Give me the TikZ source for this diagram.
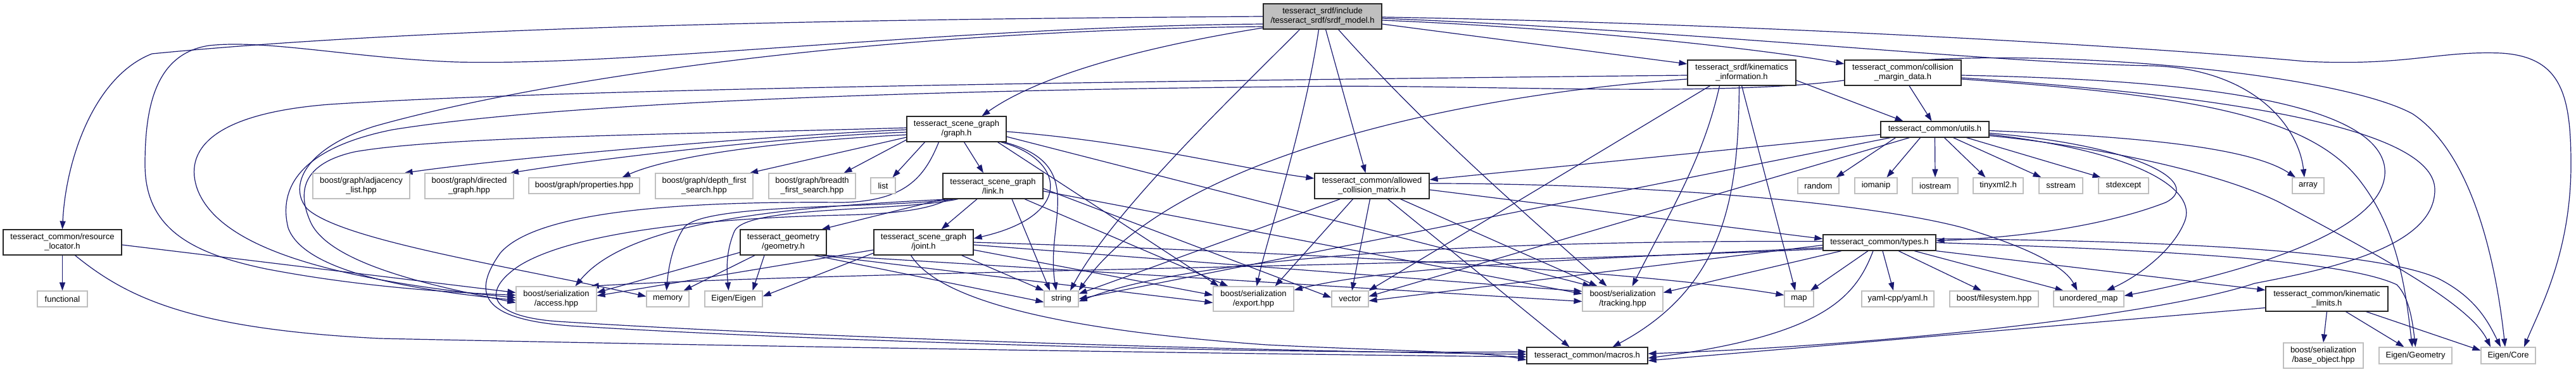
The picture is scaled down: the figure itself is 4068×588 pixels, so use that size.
\documentclass[tikz,border=0pt]{standalone}
\usepackage{fontspec}
\setmainfont{Liberation Sans}
\usetikzlibrary{arrows.meta}
\definecolor{mblue}{HTML}{191970}
\definecolor{lgray}{HTML}{BFBFBF}
\pgfdeclarelayer{bg}
\pgfdeclarelayer{edges}
\pgfsetlayers{bg,edges,main}
\begin{document}
\begin{tikzpicture}[x=1pt,y=-1pt,
  box/.style={rectangle, inner sep=0pt, align=center, font=\fontsize{13pt}{15pt}\selectfont, fill=white, line width=1.2pt},
  int/.style={box, draw=black!85},
  ext/.style={box, draw=lgray},
  rootn/.style={box, draw=black!85, fill=lgray},
  edg/.style={draw=mblue, line width=1.2pt, -{Triangle[length=13pt,width=9pt]}}]
\useasboundingbox (0,0) rectangle (4068,588);
\begin{pgfonlayer}{bg}
\fill[white] (0,0) rectangle (4068,588);
\end{pgfonlayer}
% ---------- nodes ----------
\node[rootn, minimum width=187pt, minimum height=40pt] (R) at (2088.5,26) {tesseract\_srdf/include\\/tesseract\_srdf/srdf\_model.h};
\node[int, minimum width=171pt, minimum height=40pt] (kin) at (2750.5,115) {tesseract\_srdf/kinematics\\\_information.h};
\node[int, minimum width=184pt, minimum height=40pt] (cmd) at (3005,115) {tesseract\_common/collision\\\_margin\_data.h};
\node[int, minimum width=171pt, minimum height=25pt] (utils) at (3055.5,204.5) {tesseract\_common/utils.h};
\node[int, minimum width=157pt, minimum height=40pt] (graph) at (1510.5,204) {tesseract\_scene\_graph\\/graph.h};
\node[ext, minimum width=153pt, minimum height=40pt] (adj) at (570.5,294) {boost/graph/adjacency\\\_list.hpp};
\node[ext, minimum width=140pt, minimum height=40pt] (dir) at (741,294) {boost/graph/directed\\\_graph.hpp};
\node[ext, minimum width=175pt, minimum height=25pt] (prop) at (922.5,293.5) {boost/graph/properties.hpp};
\node[ext, minimum width=154pt, minimum height=40pt] (dfs) at (1112,294) {boost/graph/depth\_first\\\_search.hpp};
\node[ext, minimum width=137pt, minimum height=40pt] (bfs) at (1282.5,294) {boost/graph/breadth\\\_first\_search.hpp};
\node[ext, minimum width=39pt, minimum height=25pt] (list) at (1394.5,293.5) {list};
\node[int, minimum width=158pt, minimum height=40pt] (link) at (1568,294) {tesseract\_scene\_graph\\/link.h};
\node[int, minimum width=181pt, minimum height=40pt] (acm) at (2166.5,294) {tesseract\_common/allowed\\\_collision\_matrix.h};
\node[ext, minimum width=65pt, minimum height=25pt] (random) at (2871.5,293.5) {random};
\node[ext, minimum width=67pt, minimum height=25pt] (iomanip) at (2962.5,293.5) {iomanip};
\node[ext, minimum width=72pt, minimum height=25pt] (iostream) at (3056,293.5) {iostream};
\node[ext, minimum width=79pt, minimum height=25pt] (tinyxml) at (3155.5,293.5) {tinyxml2.h};
\node[ext, minimum width=69pt, minimum height=25pt] (sstream) at (3254.5,293.5) {sstream};
\node[ext, minimum width=79pt, minimum height=25pt] (stdexcept) at (3353.5,293.5) {stdexcept};
\node[ext, minimum width=50pt, minimum height=25pt] (array) at (3645,293.5) {array};
\node[int, minimum width=187pt, minimum height=40pt] (rl) at (98.5,383) {tesseract\_common/resource\\\_locator.h};
\node[ext, minimum width=79pt, minimum height=25pt] (functional) at (98.5,472.5) {functional};
\node[int, minimum width=136pt, minimum height=40pt] (geom) at (1237,383) {tesseract\_geometry\\/geometry.h};
\node[int, minimum width=157pt, minimum height=40pt] (joint) at (1458.5,383) {tesseract\_scene\_graph\\/joint.h};
\node[int, minimum width=178pt, minimum height=25pt] (types) at (2968,383.5) {tesseract\_common/types.h};
\node[ext, minimum width=127pt, minimum height=39pt] (access) at (878.5,472.5) {boost/serialization\\/access.hpp};
\node[ext, minimum width=67pt, minimum height=25pt] (memory) at (1054.5,472.5) {memory};
\node[ext, minimum width=91pt, minimum height=25pt] (eigen) at (1158.5,472.5) {Eigen/Eigen};
\node[ext, minimum width=54pt, minimum height=25pt] (string) at (1676,472.5) {string};
\node[ext, minimum width=127pt, minimum height=39pt] (export) at (1979.5,472.5) {boost/serialization\\/export.hpp};
\node[ext, minimum width=58pt, minimum height=25pt] (vector) at (2132,472.5) {vector};
\node[ext, minimum width=127pt, minimum height=39pt] (tracking) at (2562.5,472.5) {boost/serialization\\/tracking.hpp};
\node[ext, minimum width=46pt, minimum height=25pt] (map) at (2841,472.5) {map};
\node[ext, minimum width=114pt, minimum height=25pt] (yaml) at (2997,472.5) {yaml-cpp/yaml.h};
\node[ext, minimum width=140pt, minimum height=25pt] (fs) at (3149,472.5) {boost/filesystem.hpp};
\node[ext, minimum width=111pt, minimum height=25pt] (umap) at (3298.5,472.5) {unordered\_map};
\node[int, minimum width=193pt, minimum height=39pt] (kl) at (3674.5,472.5) {tesseract\_common/kinematic\\\_limits.h};
\node[int, minimum width=191pt, minimum height=26pt] (macros) at (2506.5,562) {tesseract\_common/macros.h};
\node[ext, minimum width=126pt, minimum height=40pt] (base) at (3669,562) {boost/serialization\\/base\_object.hpp};
\node[ext, minimum width=115pt, minimum height=26pt] (egeo) at (3814.5,562) {Eigen/Geometry};
\node[ext, minimum width=86pt, minimum height=26pt] (ecore) at (3961,562) {Eigen/Core};
% ---------- edges ----------
\begin{pgfonlayer}{edges}
% root
\draw[edg] (R.west) .. controls (1400,30) and (700,40) .. (240,85) .. controls (150,120) and (104,250) .. (rl.north);
\draw[edg] ([yshift=-12pt]R.west) .. controls (1500,42) and (1000,105) .. (720,98) .. controls (560,92) and (420,62) .. (330,72) .. controls (245,85) and (229,170) .. (229,260) .. controls (229,360) and (300,400) .. (420,425) .. controls (560,452) and (700,462) .. ([yshift=6pt]access.west);
\draw[edg] ([yshift=-16pt]R.west) .. controls (1300,50) and (800,140) .. (590,200) .. controls (480,235) and (455,295) .. (485,330) .. controls (540,380) and (800,420) .. ([yshift=4pt]memory.west);
\draw[edg] ([yshift=-18pt]R.west) .. controls (1800,75) and (1640,120) .. ([xshift=40pt]graph.north);
\draw[edg] ([xshift=-36pt]R.south) .. controls (1950,150) and (1760,330) .. ([xshift=14pt]string.north);
\draw[edg] ([xshift=-6pt]R.south) .. controls (2060,200) and (2000,380) .. ([xshift=5pt]export.north);
\draw[edg] ([xshift=5pt]R.south) -- ([xshift=-10pt]acm.north);
\draw[edg] ([xshift=25pt]R.south) .. controls (2250,200) and (2400,330) .. ([xshift=-25pt]tracking.north);
\draw[edg] ([yshift=-12pt]R.east) -- ([yshift=14pt]kin.west);
\draw[edg] ([yshift=-6pt]R.east) .. controls (2500,45) and (2800,80) .. ([yshift=14pt]cmd.west);
\draw[edg] ([yshift=-1pt]R.east) .. controls (2800,38) and (3400,75) .. (3640,97) .. controls (3800,105) and (3850,80) .. (3950,84) .. controls (4045,90) and (4060,150) .. (4060,260) .. controls (4060,400) and (4010,490) .. ([xshift=25pt]ecore.north);
\draw[edg] ([yshift=-3pt]R.east) .. controls (2700,50) and (3150,100) .. (3400,104) .. controls (3560,110) and (3630,200) .. ([xshift=-6pt]array.north);
% kinematics information
\draw[edg] ([yshift=-12pt]kin.east) -- ([xshift=-50pt]utils.north);
\draw[edg] ([yshift=-4pt]kin.west) .. controls (1800,128) and (900,140) .. (520,165) .. controls (330,180) and (290,240) .. (312,300) .. controls (345,385) and (500,440) .. ([yshift=2pt]access.west);
\draw[edg] ([yshift=-10pt]kin.west) .. controls (2300,150) and (1850,250) .. (string.north east);
\draw[edg] (kin.south) -- ([xshift=-6pt]map.north);
\draw[edg] ([xshift=-4pt]kin.south) .. controls (2745,300) and (2730,450) .. ([xshift=40pt]macros.north);
\draw[edg] ([xshift=-35pt]kin.south) .. controls (2690,250) and (2640,330) .. ([xshift=15pt]tracking.north);
\draw[edg] ([xshift=-50pt]kin.south) -- (vector.north east);
% collision margin data
\draw[edg] ([xshift=10pt]cmd.south) -- ([xshift=-5pt]utils.north);
\draw[edg] ([yshift=-12pt]cmd.west) .. controls (2700,155) and (2300,132) .. (2040,137) .. controls (1500,142) and (900,160) .. (620,205) .. controls (470,235) and (440,300) .. (455,360) .. controls (480,430) and (650,458) .. ([yshift=-2pt]access.west);
\draw[edg] ([yshift=-8pt]cmd.east) .. controls (3500,150) and (3845,200) .. (3845,300) .. controls (3845,390) and (3680,425) .. (3560,448) .. controls (3420,495) and (3000,545) .. ([yshift=3pt]macros.east);
\draw[edg] ([yshift=-4pt]cmd.east) .. controls (3400,125) and (3740,150) .. (3765,260) .. controls (3785,360) and (3550,430) .. ([yshift=5pt]umap.east);
\draw[edg] ([yshift=-10pt]cmd.east) .. controls (3450,150) and (3650,180) .. (3730,290) .. controls (3790,370) and (3800,470) .. ([xshift=-5pt]egeo.north);
\draw[edg] ([xshift=40pt]cmd.north) .. controls (3300,80) and (3700,120) .. (3810,180) .. controls (3900,240) and (3940,400) .. ([xshift=-5pt]ecore.north);
% utils
\draw[edg] ([xshift=-62pt]utils.south) -- ([xshift=28pt]random.north);
\draw[edg] ([xshift=-23pt]utils.south) -- ([xshift=17pt]iomanip.north);
\draw[edg] (utils.south) -- (iostream.north);
\draw[edg] ([xshift=15pt]utils.south) -- ([xshift=-20pt]tinyxml.north);
\draw[edg] ([xshift=29pt]utils.south) -- ([xshift=-31pt]sstream.north);
\draw[edg] ([xshift=50pt]utils.south) -- ([xshift=-36pt]stdexcept.north);
\draw[edg] ([yshift=-2pt]utils.east) .. controls (3350,215) and (3550,230) .. ([xshift=-20pt]array.north);
\draw[edg] ([yshift=-8pt]utils.west) -- ([yshift=10pt]acm.east);
\draw[edg] ([yshift=-6pt]utils.east) .. controls (3380,230) and (3480,290) .. (3420,320) .. controls (3330,355) and (3200,375) .. ([yshift=3pt]types.east);
\draw[edg] ([yshift=-8pt]utils.east) .. controls (3380,240) and (3470,300) .. (3450,350) .. controls (3430,400) and (3370,440) .. ([xshift=28pt]umap.north);
\draw[edg] ([yshift=-10pt]utils.east) .. controls (3300,230) and (3500,270) .. (3600,320) .. controls (3750,400) and (3900,480) .. ([xshift=-28pt]ecore.north);
\draw[edg] ([xshift=-40pt]utils.south) -- ([yshift=4pt]vector.east);
\draw[edg] ([xshift=-70pt]utils.south) -- (string.east);
% graph
\draw[edg] ([yshift=-1pt]graph.west) .. controls (1200,215) and (800,250) .. ([xshift=68pt]adj.north);
\draw[edg] ([yshift=-5pt]graph.west) .. controls (1250,215) and (950,250) .. ([xshift=65pt]dir.north);
\draw[edg] ([yshift=-9pt]graph.west) .. controls (1200,225) and (1050,250) .. ([xshift=60pt]prop.north);
\draw[edg] ([yshift=-13pt]graph.west) -- ([xshift=72pt]dfs.north);
\draw[edg] ([yshift=-17pt]graph.west) -- ([xshift=50pt]bfs.north);
\draw[edg] ([yshift=2pt]graph.west) .. controls (1100,212) and (700,215) .. (560,240) .. controls (480,258) and (468,300) .. (490,350) .. controls (520,420) and (700,455) .. ([yshift=-6pt]access.west);
\draw[edg] ([xshift=-50pt]graph.south) -- ([xshift=15pt]list.north);
\draw[edg] ([xshift=12pt]graph.south) -- ([xshift=-15pt]link.north);
\draw[edg] ([xshift=70pt]graph.south) .. controls (1680,250) and (1700,340) .. ([yshift=6pt]joint.east);
\draw[edg] ([xshift=75pt]graph.south) .. controls (1720,260) and (1650,350) .. ([xshift=-8pt]string.north);
\draw[edg] ([xshift=65pt]graph.south) -- ([xshift=-55pt]export.north);
\draw[edg] ([yshift=-4pt]graph.east) .. controls (1800,225) and (1950,265) .. ([yshift=12pt]acm.west);
\draw[edg] ([yshift=-12pt]graph.east) -- ([xshift=-50pt]tracking.north);
\draw[edg] ([xshift=-28pt]graph.south) .. controls (1460,280) and (1430,318) .. (1330,320) .. controls (1100,318) and (850,330) .. (790,400) .. controls (740,470) and (770,505) .. (900,515) .. controls (1300,540) and (2000,560) .. ([yshift=6pt]macros.west);
% link
\draw[edg] ([xshift=-25pt]link.south) -- ([xshift=28pt]joint.north);
\draw[edg] ([xshift=-78pt]link.south) -- ([xshift=-8pt]geom.north east);
\draw[edg] ([xshift=-70pt]link.south) .. controls (1470,330) and (1420,338) .. (1330,340) .. controls (1100,345) and (900,370) .. (820,420) .. controls (760,460) and (770,500) .. (880,508) .. controls (1300,535) and (2000,555) .. ([yshift=2pt]macros.west);
\draw[edg] ([xshift=-60pt]link.south) .. controls (1400,330) and (1110,320) .. (1080,360) .. controls (1060,390) and (1055,430) .. ([xshift=-2pt]memory.north);
\draw[edg] ([xshift=-55pt]link.south) .. controls (1420,335) and (1180,325) .. (1160,365) .. controls (1145,400) and (1148,430) .. ([xshift=-8pt]eigen.north);
\draw[edg] ([xshift=-65pt]link.south) .. controls (1300,325) and (1000,340) .. ([xshift=30pt]access.north);
\draw[edg] ([xshift=30pt]link.south) -- ([xshift=-18pt]string.north);
\draw[edg] ([xshift=50pt]link.south) -- ([xshift=-40pt]export.north);
\draw[edg] ([yshift=-8pt]link.east) -- ([yshift=8pt]tracking.west);
\draw[edg] ([yshift=-4pt]link.east) -- ([yshift=2pt]vector.west);
% joint
\draw[edg] ([yshift=-12pt]joint.west) -- ([yshift=5pt]access.east);
\draw[edg] ([yshift=-17pt]joint.west) -- ([yshift=4pt]eigen.east);
\draw[edg] ([xshift=60pt]joint.south) -- (string.north west);
\draw[edg] ([yshift=-12pt]joint.east) -- ([yshift=6pt]export.west);
\draw[edg] ([yshift=-4pt]joint.east) -- ([yshift=12pt]tracking.west);
\draw[edg] (joint.east) .. controls (2100,400) and (2600,430) .. ([yshift=6pt]map.west);
\draw[edg] ([xshift=-20pt]joint.south) .. controls (1480,470) and (1650,520) .. (2000,545) .. controls (2200,555) and (2350,556) .. ([yshift=-7pt]macros.west);
% geometry
\draw[edg] ([yshift=-16pt]geom.west) -- ([yshift=10pt]access.east);
\draw[edg] ([xshift=-45pt]geom.south) -- ([xshift=25pt]memory.north);
\draw[edg] ([xshift=-30pt]geom.south) -- ([xshift=30pt]eigen.north);
\draw[edg] ([xshift=-20pt]geom.south east) -- ([yshift=-5pt]string.west);
\draw[edg] ([xshift=-10pt]geom.south east) -- ([yshift=-6pt]export.west);
\draw[edg] (geom.south east) -- ([yshift=-4pt]tracking.west);
% allowed collision matrix
\draw[edg] ([yshift=-6pt]acm.east) -- ([yshift=6pt]types.west);
\draw[edg] ([xshift=-50pt]acm.south) -- ([yshift=8pt]string.east);
\draw[edg] ([xshift=-3pt]acm.south) -- ([xshift=3pt]vector.north);
\draw[edg] ([xshift=25pt]acm.south) -- ([xshift=-28pt]macros.north);
\draw[edg] ([xshift=45pt]acm.south) -- ([xshift=-40pt]tracking.north);
\draw[edg] ([xshift=-30pt]acm.south) -- ([xshift=-30pt]export.north east);
\draw[edg] ([yshift=4pt]acm.east) .. controls (2600,290) and (2950,320) .. (3100,360) .. controls (3200,390) and (3260,420) .. ([xshift=-18pt]umap.north);
% types
\draw[edg] ([xshift=-18pt]types.south) -- ([xshift=18pt]map.north);
\draw[edg] ([xshift=5pt]types.south) -- ([xshift=-7pt]yaml.north);
\draw[edg] ([xshift=30pt]types.south) -- ([xshift=-20pt]fs.north);
\draw[edg] ([xshift=55pt]types.south) -- ([xshift=-40pt]umap.north);
\draw[edg] (types.south east) -- ([yshift=14pt]kl.west);
\draw[edg] ([xshift=-10pt]types.south) .. controls (2930,470) and (2880,530) .. ([yshift=-4pt]macros.east);
\draw[edg] (types.east) .. controls (3400,395) and (3700,410) .. (3785,450) .. controls (3805,470) and (3810,510) .. (egeo.north);
\draw[edg] ([yshift=6pt]types.east) .. controls (3400,380) and (3750,395) .. (3850,440) .. controls (3910,470) and (3930,510) .. ([xshift=-12pt]ecore.north);
\draw[edg] ([yshift=2pt]types.west) .. controls (2400,380) and (1900,400) .. ([yshift=-4pt]string.east);
\draw[edg] ([yshift=-4pt]types.west) -- ([yshift=-3pt]vector.east);
\draw[edg] ([xshift=-60pt]types.south) -- ([yshift=10pt]tracking.east);
\draw[edg] ([yshift=-8pt]types.west) .. controls (2500,410) and (2200,420) .. ([yshift=14pt]export.east);
\draw[edg] ([yshift=-10pt]types.west) .. controls (2300,420) and (1300,430) .. ([xshift=-10pt]access.north east);
% kinematic limits
\draw[edg] (kl.south) -- (base.north);
\draw[edg] ([xshift=30pt]kl.south) -- ([xshift=-18pt]egeo.north);
\draw[edg] ([xshift=62pt]kl.south) -- ([yshift=8pt]ecore.west);
\draw[edg] ([yshift=-14pt]kl.west) .. controls (3300,510) and (2900,545) .. ([yshift=-8pt]macros.east);
% resource locator
\draw[edg] (rl.south) -- (functional.north);
\draw[edg] ([yshift=-4pt]rl.east) -- ([yshift=10pt]access.west);
\draw[edg] ([xshift=20pt]rl.south) .. controls (200,470) and (300,520) .. (600,535) .. controls (1200,548) and (2000,560) .. ([yshift=-2pt]macros.west);
\end{pgfonlayer}
\end{tikzpicture}
\end{document}
